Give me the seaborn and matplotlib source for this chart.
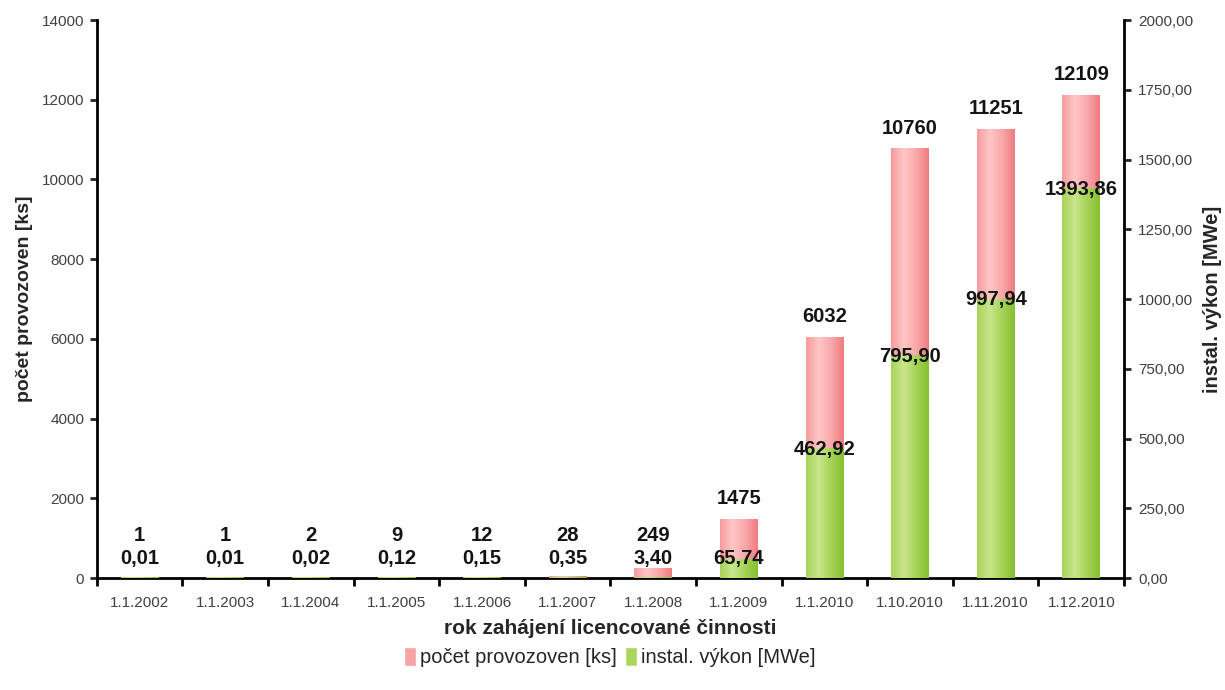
import numpy as np
import pandas as pd
import matplotlib
matplotlib.use('Agg')
import matplotlib.pyplot as plt
import seaborn as sns
from matplotlib.colors import LinearSegmentedColormap
from matplotlib.patches import Patch
from matplotlib.ticker import FuncFormatter, FixedLocator

# Data
dates = ['1.1.2002', '1.1.2003', '1.1.2004', '1.1.2005', '1.1.2006', '1.1.2007',
         '1.1.2008', '1.1.2009', '1.1.2010', '1.10.2010', '1.11.2010', '1.12.2010']
pocet = [1, 1, 2, 9, 12, 28, 249, 1475, 6032, 10760, 11251, 12109]
vykon = [0.01, 0.01, 0.02, 0.12, 0.15, 0.35, 3.40, 65.74, 462.92, 795.90, 997.94, 1393.86]

df = pd.DataFrame({'datum': dates, 'pocet': pocet, 'vykon': vykon})

sns.set_style('white')
plt.rcParams['font.family'] = ['Liberation Sans', 'DejaVu Sans']

fig = plt.figure(figsize=(12.25, 6.9), dpi=100)
ax = fig.add_axes([0.079, 0.162, 0.8386, 0.809])
ax2 = ax.twinx()

sns.barplot(data=df, x='datum', y='pocet', color='#f58a8c', width=0.44, ax=ax, saturation=1)
sns.barplot(data=df, x='datum', y='vykon', color='#8cc43c', width=0.44, ax=ax2, saturation=1)

# gradient fill of bars
red_cmap = LinearSegmentedColormap.from_list('r', ['#f69c9e', '#ffc6c6', '#f9a8aa', '#f07c80'])
green_cmap = LinearSegmentedColormap.from_list('g', ['#a9d35a', '#c8e68c', '#a6d356', '#84c030'])
grad = np.linspace(0, 1, 64).reshape(1, -1)
for a, cm in [(ax, red_cmap), (ax2, green_cmap)]:
    for p in list(a.patches):
        x0, y0, w, h = p.get_x(), p.get_y(), p.get_width(), p.get_height()
        if h <= 0:
            continue
        a.imshow(grad, extent=[x0, x0 + w, y0, y0 + h], aspect='auto', cmap=cm, zorder=2)
        p.set_visible(False)

ax.set_xlim(-0.5, len(dates) - 0.5)
ax.set_ylim(0, 14000)
ax2.set_ylim(0, 2000)
ax2.set_xlim(-0.5, len(dates) - 0.5)

# data labels
for i, (c, v) in enumerate(zip(pocet, vykon)):
    ax.annotate(str(c), (i, max(c, 540)), xytext=(0, 15), textcoords='offset points',
                ha='center', va='center', fontsize=14.5, fontweight='bold', color='#141414')
    ax2.annotate(f'{v:.2f}'.replace('.', ','), (i, max(v, 72)), ha='center', va='center',
                 fontsize=14.5, fontweight='bold', color='#141414')

# axes styling
ax.set_yticks(np.arange(0, 14001, 2000))
ax2.set_yticks(np.arange(0, 2001, 250))
ax2.yaxis.set_major_formatter(FuncFormatter(lambda v, _: f'{v:.2f}'.replace('.', ',')))
ax.xaxis.set_minor_locator(FixedLocator(np.arange(-0.5, len(dates), 1)))
ax.tick_params(axis='x', which='major', length=0, labelsize=11, labelcolor='#404040', pad=13)
ax.tick_params(axis='x', which='minor', length=6, width=2, color='black', direction='out', bottom=True)
ax.tick_params(axis='y', length=5, width=2, direction='out', left=True, labelsize=11,
               labelcolor='#404040', pad=4)
ax2.tick_params(axis='y', length=5, width=2, direction='out', right=True, labelsize=11,
                labelcolor='#404040', pad=5)

for a in (ax, ax2):
    a.spines['top'].set_visible(False)
    for s in ['left', 'right', 'bottom']:
        a.spines[s].set_linewidth(2)
        a.spines[s].set_color('black')
ax2.spines['left'].set_visible(False)
ax2.spines['bottom'].set_visible(False)
ax.spines['right'].set_visible(False)

ax.set_xlabel('rok zahájení licencované činnosti', fontsize=15, fontweight='bold', color='#262626', labelpad=6)
ax.set_ylabel('počet provozoven [ks]', fontsize=14, fontweight='bold', color='#262626', labelpad=6)
ax2.set_ylabel('instal. výkon [MWe]', fontsize=14.5, fontweight='bold', color='#262626', labelpad=7)

handles = [Patch(facecolor='#f7a3a3', label='počet provozoven [ks]'),
           Patch(facecolor='#acd55e', label='instal. výkon [MWe]')]
fig.legend(handles=handles, loc='center', bbox_to_anchor=(0.498, 0.048), ncol=2, frameon=False,
           fontsize=14.5, handlelength=0.6, handleheight=1.1, handletextpad=0.2, columnspacing=0.4)

fig.savefig('out.png', dpi=100)
